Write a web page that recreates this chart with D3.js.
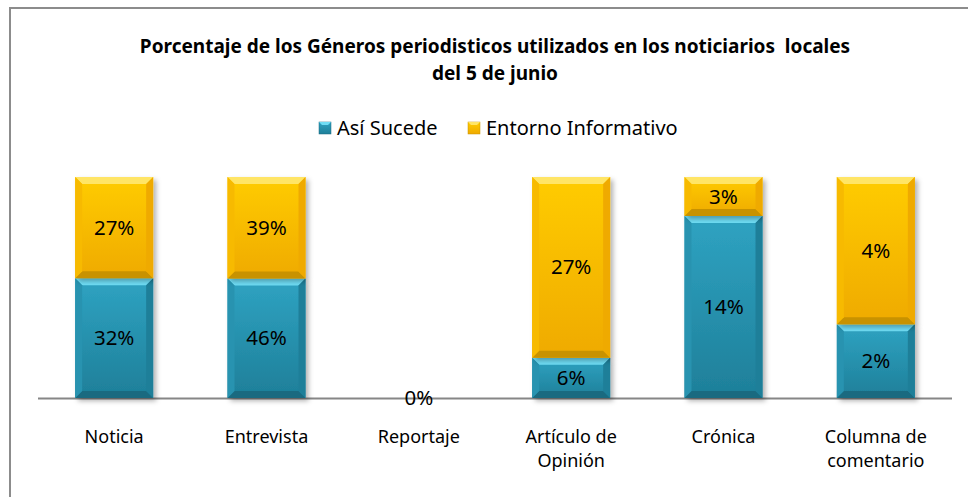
<!doctype html>
<html lang="es">
<head>
<meta charset="utf-8">
<title>Géneros periodísticos</title>
<script src="https://cdn.jsdelivr.net/npm/d3@7"></script>
<style>
  html, body { margin: 0; padding: 0; background: #fff; }
  svg { display: block; font-family: "Noto Sans", "Open Sans", sans-serif; }
</style>
</head>
<body>
<div id="chart"></div>
<script>
  // datos
  const categories = ['Noticia', 'Entrevista', 'Reportaje', 'Artículo de Opinión', 'Crónica', 'Columna de comentario'];
  const asiSucede = [32, 46, 0, 6, 14, 2];
  const entornoInformativo = [27, 39, 0, 27, 3, 4];
  const seriesNames = ['Así Sucede', 'Entorno Informativo'];
  const titleLines = ['Porcentaje de los Géneros periodisticos utilizados en los noticiarios  locales', 'del 5 de junio'];

  const width = 968, height = 497;

  const rows = categories.map((c, i) => ({ cat: c, s0: asiSucede[i], s1: entornoInformativo[i] }));

  const stack = d3.stack()
    .keys(['s0', 's1'])
    .offset(d3.stackOffsetExpand);
  const stacked = stack(rows);

  const x = d3.scaleBand()
    .domain(categories)
    .range([38, 952])
    .paddingInner(0.488)
    .paddingOuter(0.244);

  const y = d3.scaleLinear()
    .domain([0, 1])
    .range([398, 177]);

  const palette = [
    { mid: '#2FA3C2', edge: '#1E7F99', top: '#6FDDF5', bottom: '#1A6A80', side: '#2893B0' },
    { mid: '#FFCC00', edge: '#EFAA00', top: '#FFE566', bottom: '#C89200', side: '#F7BA00' }
  ];

  const svg = d3.select('#chart').append('svg')
    .attr('width', width)
    .attr('height', height);

  const defs = svg.append('defs');

  palette.forEach((p, i) => {
    const g = defs.append('linearGradient')
      .attr('id', 'grad' + i)
      .attr('x1', 0).attr('x2', 0).attr('y1', 0).attr('y2', 1);
    g.append('stop').attr('offset', '0%').attr('stop-color', p.mid);
    g.append('stop').attr('offset', '100%').attr('stop-color', p.edge);
  });

  const shadow = defs.append('filter')
    .attr('id', 'shadow')
    .attr('x', '-20%').attr('y', '-20%')
    .attr('width', '150%').attr('height', '150%');
  shadow.append('feDropShadow')
    .attr('dx', 3).attr('dy', 3)
    .attr('stdDeviation', 2.5)
    .attr('flood-color', '#000')
    .attr('flood-opacity', 0.3);

  // marco del gráfico
  svg.append('rect')
    .attr('x', 10).attr('y', 8)
    .attr('width', 980).attr('height', 520)
    .attr('fill', 'none')
    .attr('stroke', '#8c8c8c')
    .attr('stroke-width', 2);

  // título
  svg.append('text')
    .attr('x', 495)
    .attr('y', 53)
    .attr('text-anchor', 'middle')
    .style('font-weight', 'bold')
    .style('font-size', '19px')
    .style('white-space', 'pre')
    .attr('fill', '#000')
    .selectAll('tspan')
    .data(titleLines)
    .join('tspan')
    .attr('x', 495)
    .attr('dy', (d, i) => i === 0 ? 0 : 27)
    .text(d => d);

  // leyenda
  const legendX = [319, 468];
  const legend = svg.append('g')
    .selectAll('g')
    .data(seriesNames)
    .join('g')
    .attr('transform', (d, i) => `translate(${legendX[i]},122)`);

  legend.append('rect')
    .attr('width', 12).attr('height', 12)
    .attr('fill', (d, i) => `url(#grad${i})`)
    .attr('stroke', (d, i) => palette[i].bottom)
    .attr('stroke-width', 0.5);
  legend.append('path')
    .attr('d', 'M0,0 L12,0 L9,3 L3,3 Z')
    .attr('fill', (d, i) => palette[i].top);

  legend.append('text')
    .attr('x', 18)
    .attr('y', 13)
    .style('font-size', '20px')
    .attr('fill', '#000')
    .text(d => d);

  // eje horizontal
  svg.append('line')
    .attr('x1', 38).attr('x2', 952)
    .attr('y1', y(0) + 0.5).attr('y2', y(0) + 0.5)
    .attr('stroke', '#868686')
    .attr('stroke-width', 2);

  // barras
  const bevel = 7;
  const layers = svg.append('g')
    .selectAll('g')
    .data(stacked)
    .join('g');

  const seg = layers.selectAll('g')
    .data((layer, li) => layer.map(d => ({ d, li })))
    .join('g')
    .filter(o => (o.d[1] - o.d[0]) > 0);

  seg.each(function (o) {
    const g = d3.select(this);
    const p = palette[o.li];
    const x0 = x(o.d.data.cat), w = x.bandwidth();
    const y0 = y(o.d[1]), h = y(o.d[0]) - y(o.d[1]);
    const x1 = x0 + w, y1 = y0 + h;
    const b = Math.min(bevel, h / 2);

    g.append('rect')
      .attr('x', x0).attr('y', y0)
      .attr('width', w).attr('height', h)
      .attr('fill', `url(#grad${o.li})`)
      .attr('filter', 'url(#shadow)');
    g.append('path')
      .attr('d', `M${x0},${y0} L${x1},${y0} L${x1 - b},${y0 + b} L${x0 + b},${y0 + b} Z`)
      .attr('fill', p.top);
    g.append('path')
      .attr('d', `M${x0},${y1} L${x1},${y1} L${x1 - b},${y1 - b} L${x0 + b},${y1 - b} Z`)
      .attr('fill', p.bottom);
    g.append('path')
      .attr('d', `M${x0},${y0} L${x0 + b},${y0 + b} L${x0 + b},${y1 - b} L${x0},${y1} Z`)
      .attr('fill', p.side);
    g.append('path')
      .attr('d', `M${x1},${y0} L${x1 - b},${y0 + b} L${x1 - b},${y1 - b} L${x1},${y1} Z`)
      .attr('fill', p.edge);
  });

  // etiquetas de datos (un solo 0% cuando la columna está vacía)
  const raw = [asiSucede, entornoInformativo];
  const labels = svg.append('g')
    .selectAll('g')
    .data(stacked)
    .join('g');

  labels.selectAll('text')
    .data((layer, li) => layer
      .map((d, i) => ({ d, v: raw[li][i], li, i }))
      .filter(o => !(o.li > 0 && o.v === 0 && asiSucede[o.i] === 0)))
    .join('text')
    .attr('x', o => x(o.d.data.cat) + x.bandwidth() / 2)
    .attr('y', o => (y(o.d[0]) + y(o.d[1])) / 2 + 7)
    .attr('text-anchor', 'middle')
    .style('font-size', '20.5px')
    .attr('fill', '#000')
    .text(o => o.v + '%');

  // etiquetas de categorías
  const catLabels = svg.append('g')
    .selectAll('text')
    .data(categories)
    .join('text')
    .attr('x', d => x(d) + x.bandwidth() / 2)
    .attr('y', 443)
    .attr('text-anchor', 'middle')
    .style('font-size', '18px')
    .attr('fill', '#000');

  catLabels.each(function (d) {
    const t = d3.select(this);
    const words = d.split(' ');
    const lines = [];
    let line = [];
    words.forEach(wd => {
      line.push(wd);
      t.text(line.join(' '));
      if (this.getComputedTextLength() > 120 && line.length > 1) {
        line.pop();
        lines.push(line.join(' '));
        line = [wd];
      }
    });
    lines.push(line.join(' '));
    t.text(null);
    t.selectAll('tspan')
      .data(lines)
      .join('tspan')
      .attr('x', x(d) + x.bandwidth() / 2)
      .attr('dy', (l, i) => i === 0 ? 0 : 24)
      .text(l => l);
  });
</script>
</body>
</html>
